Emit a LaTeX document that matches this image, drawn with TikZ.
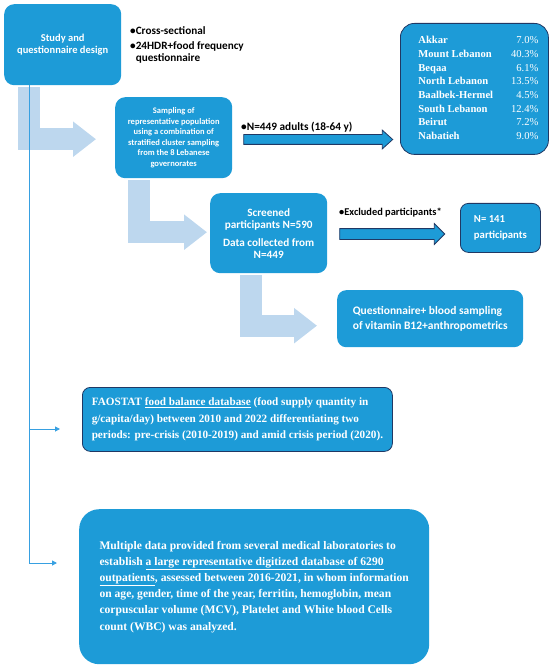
\documentclass[tikz,border=0pt]{standalone}
\usepackage{fontspec}
\setmainfont{Liberation Serif}
\newfontfamily\calibri{Carlito}
\usetikzlibrary{positioning,calc,arrows.meta,shapes.arrows}
\definecolor{boxblue}{RGB}{29,155,215}
\definecolor{paleblue}{RGB}{189,215,238}
\definecolor{navyline}{RGB}{32,56,100}
\definecolor{trunkblue}{RGB}{55,160,225}

\begin{document}
\begin{tikzpicture}[x=1pt, y=-1pt,
	bluebox/.style={anchor=north west, rounded corners=10pt, fill=boxblue, text=white, inner sep=0pt, align=center},
	edgedbox/.style={bluebox, draw=navyline, line width=0.8pt},
	flatarrow/.style={single arrow, fill=boxblue, draw=navyline, line width=0.8pt, inner sep=0pt, text depth=0pt},
	bigarrow/.style={paleblue, line width=22pt, -{Triangle[length=23pt, width=34pt]}},
	trunk/.style={trunkblue, line width=1pt, -{Triangle[length=5pt, width=5pt]}}]
	\useasboundingbox (0,0) rectangle (550,668);
	% study design
	\node [bluebox, minimum width=117, minimum height=81, font=\calibri\bfseries\fontsize{10.5}{12.5}\selectfont] (Design) at (4,4) {Study and\\questionnaire design};
	\node [anchor=north west, align=left, inner sep=0pt, font=\calibri\bfseries\fontsize{11.2}{12.5}\selectfont] (DesignNotes) at (130,26) {•Cross-sectional\\[2.5pt]•24HDR+food frequency\\\phantom{•}questionnaire};
	% sampling
	\node [bluebox, minimum width=117, minimum height=81, font=\calibri\bfseries\fontsize{8.5}{10.6}\selectfont] (Sampling) at (115,97) {Sampling of\\representative population\\using a combination of\\stratified cluster sampling\\from the 8 Lebanese\\governorates};
	\node [anchor=west, inner sep=0pt, font=\calibri\bfseries\fontsize{11.3}{12}\selectfont] (AdultsLabel) at (241,127) {•N=449 adults (18-64 y)};
	\node [flatarrow, text height=9pt, minimum height=149, single arrow head extend=4.5pt, single arrow tip angle=84] (ToTable) at (315.5,139.5) {};
	\node [edgedbox, rounded corners=14pt, minimum width=148, minimum height=131, font=\bfseries\fontsize{10.6}{13.7}\selectfont] (Governorates) at (400,23) {\hspace*{8pt}\begin{tabular*}{120pt}{@{}l@{\extracolsep{\fill}}r@{}}
		Akkar & \mdseries 7.0\%\\
		Mount Lebanon & \mdseries 40.3\%\\
		Beqaa & \mdseries 6.1\%\\
		North Lebanon & \mdseries 13.5\%\\
		Baalbek-Hermel & \mdseries 4.5\%\\
		South Lebanon & \mdseries 12.4\%\\
		Beirut & \mdseries 7.2\%\\
		Nabatieh & \mdseries 9.0\%
	\end{tabular*}};
	% screening
	\node [bluebox, minimum width=117, minimum height=80, font=\calibri\bfseries\fontsize{11.2}{12}\selectfont] (Screened) at (210,193) {Screened\\participants N=590\\[6pt]Data collected from\\N=449};
	\node [anchor=west, inner sep=0pt, font=\calibri\bfseries\fontsize{10.4}{12}\selectfont] (ExcludedLabel) at (339,213) {•Excluded participants*};
	\node [flatarrow, text height=10pt, minimum height=105, single arrow head extend=5pt, single arrow tip angle=90] (ToExcluded) at (389.5,234) {};
	\node [edgedbox, rounded corners=8pt, minimum width=80, minimum height=49, align=left, font=\calibri\bfseries\fontsize{10.7}{16}\selectfont] (Excluded) at (460,203) {N= 141\\participants};
	\node [bluebox, rounded corners=9pt, minimum width=186, minimum height=57, align=left, font=\calibri\bfseries\fontsize{11.5}{15}\selectfont] (Measures) at (337,290) {Questionnaire+ blood sampling\\of vitamin B12+anthropometrics};
	% other data sources
	\node [edgedbox, rounded corners=8pt, minimum width=310, minimum height=64, align=left, font=\bfseries\fontsize{11.2}{16.5}\selectfont] (Faostat) at (82,387) {FAOSTAT \underline{food balance database} (food supply quantity in\\g/capita/day) between 2010 and 2022 differentiating two\\periods: pre-crisis (2010-2019) and amid crisis period (2020).};
	\node [bluebox, rounded corners=20pt, minimum width=350, minimum height=155, align=left, font=\bfseries\fontsize{11.6}{16.2}\selectfont] (Laboratories) at (79,509) {Multiple data provided from several medical laboratories to\\establish \underline{a large representative digitized database of 6290}\\\underline{outpatients}, assessed between 2016-2021, in whom information\\on age, gender, time of the year, ferritin, hemoglobin, mean\\corpuscular volume (MCV), Platelet and White blood Cells\\count (WBC) was analyzed.};
	\coordinate (FaostatTip) at (60,429);
	\coordinate (LabTip) at (57,563);
	% connectors
	\draw [bigarrow, shorten >=19pt] ($(Design.south west)+(25,2)$) |- ($(Sampling.west)+(0,1.5)$);
	\draw [bigarrow, shorten >=3pt] ($(Sampling.south west)+(24,2)$) |- ($(Screened.west)+(0,-1)$);
	\draw [bigarrow, shorten >=20pt] ($(Screened.south west)+(40.5,2)$) |- ($(Measures.west)+(0,7)$);
	\draw [trunk] ($(Design.south west)+(25,0)$) |- (FaostatTip);
	\draw [trunk] ($(Design.south west)+(25,0)$) |- (LabTip);
\end{tikzpicture}
\end{document}
